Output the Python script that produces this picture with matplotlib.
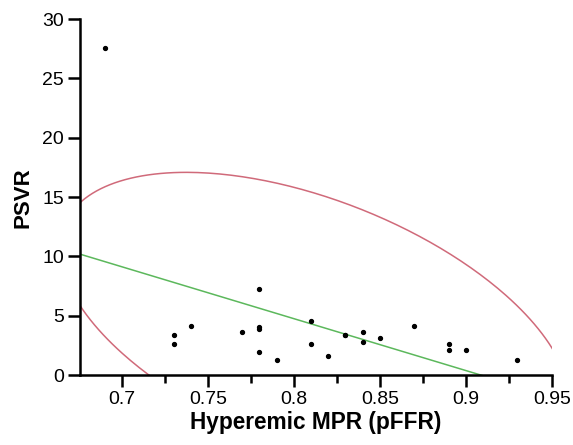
import numpy as np
import matplotlib
matplotlib.use("Agg")
from matplotlib import pyplot as plt
from matplotlib.ticker import MultipleLocator

plt.rcParams['font.family'] = ['Liberation Sans', 'DejaVu Sans']

# hyperemic MPR (pFFR) vs PSVR
mpr = [0.69, 0.73, 0.73, 0.74, 0.77, 0.78, 0.78, 0.78, 0.78, 0.79, 0.81, 0.81,
       0.82, 0.83, 0.83, 0.84, 0.84, 0.85, 0.87, 0.89, 0.89, 0.90, 0.93]
psvr = [27.6, 3.35, 2.65, 4.15, 3.6, 7.25, 4.05, 3.9, 1.95, 1.3, 4.6, 2.6,
        1.6, 3.4, 3.35, 3.6, 2.8, 3.1, 4.1, 2.65, 2.15, 2.15, 1.3]
xticks = [0.7, 0.75, 0.8, 0.85, 0.9, 0.95]
xticklabels = ['0.7', '0.75', '0.8', '0.85', '0.9', '0.95']

x = np.array(mpr)
y = np.array(psvr)

fig = plt.figure(figsize=(5.73, 4.45), dpi=100)
ax = fig.add_axes([0.1396, 0.157, 0.8234, 0.8])

# linear fit
b1, b0 = np.polyfit(x, y, 1)
xl = np.linspace(0.6756, 0.95, 100)
ax.plot(xl, b0 + b1 * xl, color='#5cb85c', lw=1.1, zorder=2)

# 95% density ellipse
cov = np.cov(x, y)
L = np.linalg.cholesky(cov)
t = np.linspace(0, 2 * np.pi, 400)
r = np.sqrt(5.991)
pts = np.array([x.mean(), y.mean()])[:, None] + r * L @ np.vstack([np.cos(t), np.sin(t)])
ax.plot(pts[0], pts[1], color='#d06a7a', lw=1.1, zorder=2)

ax.plot(x, y, 'o', color='black', ms=2.8, zorder=3)

ax.set_xlim(0.6756, 0.95)
ax.set_ylim(0, 30)
ax.xaxis.set_minor_locator(MultipleLocator(0.025))
ax.yaxis.set_major_locator(MultipleLocator(5))
ax.set_xticks(xticks)
ax.set_xticklabels(xticklabels)

for s in ['top', 'right']:
    ax.spines[s].set_visible(False)
for s in ['left', 'bottom']:
    ax.spines[s].set_linewidth(1.8)
ax.tick_params(which='major', length=8.5, width=1.8, labelsize=14, pad=3, direction='out')
ax.tick_params(which='minor', length=5.5, width=1.8, direction='out')

ax.set_xlabel('Hyperemic MPR (pFFR)', fontsize=16.3, fontweight='bold', labelpad=2)
ax.set_ylabel('PSVR', fontsize=16, fontweight='bold', labelpad=6)

fig.savefig('out.png', dpi=100)
